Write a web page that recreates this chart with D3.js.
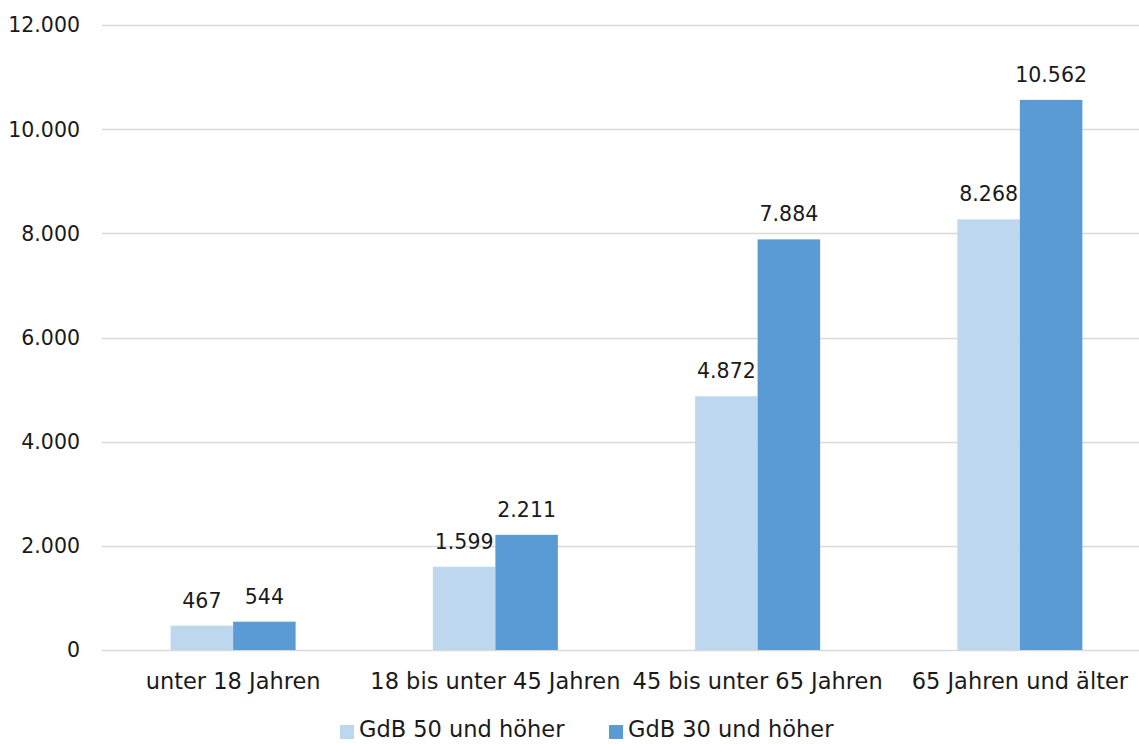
<!DOCTYPE html>
<html><head><meta charset="utf-8">
<script src="https://cdn.jsdelivr.net/npm/d3@7"></script>
<style>
html,body{margin:0;padding:0;background:#fff;overflow:hidden;}
svg{display:block;font-family:"DejaVu Sans",sans-serif;}
</style></head>
<body>
<svg id="c" width="1139" height="744"></svg>
<script>
const categories = ["unter 18 Jahren","18 bis unter 45 Jahren","45 bis unter 65 Jahren","65 Jahren und älter"];
const seriesNames = ["GdB 50 und höher","GdB 30 und höher"];
const gdb50 = [467,1599,4872,8268];
const gdb30 = [544,2211,7884,10562];
const yTicks = [0,2000,4000,6000,8000,10000,12000];
const colors = ["#BDD7EE","#5B9BD5"];

const svg = d3.select("#c");
const fmt = d3.formatLocale({decimal:",",thousands:".",grouping:[3],currency:["","€"]}).format(",d");
const x = d3.scaleBand().domain(categories).range([102,1151]).paddingInner(0).paddingOuter(0);
const y = d3.scaleLinear().domain([0,12000]).range([650,25]);
const barW = 62.5;
const xs = d3.scaleBand().domain([0,1]).range([0,barW*2]);

const fsNum = 20.5, fsTxt = 22.5;
const ink = "#1a1a1a";
// grid
svg.append("g").selectAll("line").data(yTicks).join("line")
  .attr("x1",102).attr("x2",1139).attr("y1",d=>Math.round(y(d))+0.5).attr("y2",d=>Math.round(y(d))+0.5)
  .attr("stroke","#D9D9D9").attr("stroke-width",1.5);
// y labels
svg.append("g").selectAll("text").data(yTicks).join("text")
  .attr("x",80).attr("y",d=>y(d)).attr("dy","0.36em").attr("text-anchor","end")
  .attr("font-size",fsNum).attr("fill",ink).text(d=>fmt(d));

const series = [gdb50,gdb30];
series.forEach((vals,si)=>{
  const g = svg.append("g");
  g.selectAll("rect").data(vals).join("rect")
    .attr("x",(d,i)=>x(categories[i])+x.bandwidth()/2-barW+xs(si))
    .attr("width",barW)
    .attr("y",d=>y(d)).attr("height",d=>y(0)-y(d))
    .attr("fill",colors[si]);
  g.selectAll("text").data(vals).join("text")
    .attr("x",(d,i)=>x(categories[i])+x.bandwidth()/2-barW+xs(si)+barW/2)
    .attr("y",d=>y(d)-18).attr("text-anchor","middle")
    .attr("font-size",fsNum).attr("fill",ink).text(d=>fmt(d));
});
// x labels
svg.append("g").selectAll("text").data(categories).join("text")
  .attr("x",d=>x(d)+x.bandwidth()/2).attr("y",689).attr("text-anchor","middle")
  .attr("font-size",fsTxt).attr("fill",ink).text(d=>d);
// legend
const legX = [340,609];
const lg = svg.append("g").selectAll("g").data(seriesNames).join("g")
  .attr("transform",(d,i)=>`translate(${legX[i]},0)`);
lg.append("rect").attr("x",0).attr("y",725).attr("width",14).attr("height",14).attr("fill",(d,i)=>colors[i]);
lg.append("text").attr("x",19).attr("y",737).attr("font-size",fsTxt).attr("fill",ink).text(d=>d);
</script>
</body></html>
